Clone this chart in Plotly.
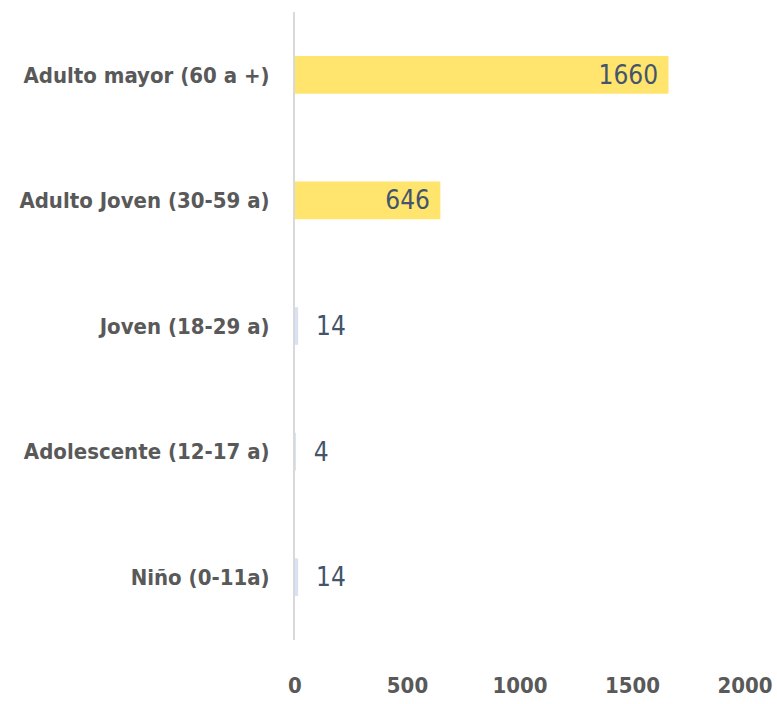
import plotly.graph_objects as go

categories = ["Adulto mayor (60 a +)", "Adulto Joven (30-59 a)", "Joven (18-29 a)",
              "Adolescente (12-17 a)", "Niño (0-11a)"]
values = [1660, 646, 14, 4, 14]
tick_vals = [0, 500, 1000, 1500, 2000]

YELLOW = "#FFE46E"
PALE = "#D9E2F3"
colors = [YELLOW if v > 100 else PALE for v in values]
texts = [(f"{v}\u00a0" if v > 100 else f"\u00a0\u00a0{v}") for v in values]
positions = ["inside" if v > 100 else "outside" for v in values]

FONT = "DejaVu Sans Condensed, Liberation Sans Narrow, sans-serif"

fig = go.Figure(go.Bar(
    x=values, y=categories, orientation="h",
    marker=dict(color=colors, line=dict(width=0)),
    width=0.3,
    text=texts, textposition=positions,
    insidetextanchor="end",
    textfont=dict(family=FONT, size=26, color="#44546A"),
    constraintext="none", cliponaxis=False,
))

fig.update_layout(
    width=777, height=704,
    margin=dict(l=295, r=32, t=12, b=64),
    plot_bgcolor="white", paper_bgcolor="white",
    showlegend=False,
    xaxis=dict(range=[0, 2000], tickvals=tick_vals, showgrid=False, zeroline=False,
               showline=False, ticks="", ticklabelstandoff=30, automargin=False,
               tickfont=dict(family=FONT, size=22, color="#595959", weight="bold")),
    yaxis=dict(categoryorder="array", categoryarray=categories[::-1],
               showgrid=False, zeroline=False, showline=True, linecolor="#D9D9D9",
               linewidth=2, ticks="", ticklabelstandoff=19, automargin=False,
               tickfont=dict(family=FONT, size=22, color="#595959", weight="bold")),
)

fig.write_html("out.html", config={"displayModeBar": False},
               post_script="document.body.style.margin='0';")
